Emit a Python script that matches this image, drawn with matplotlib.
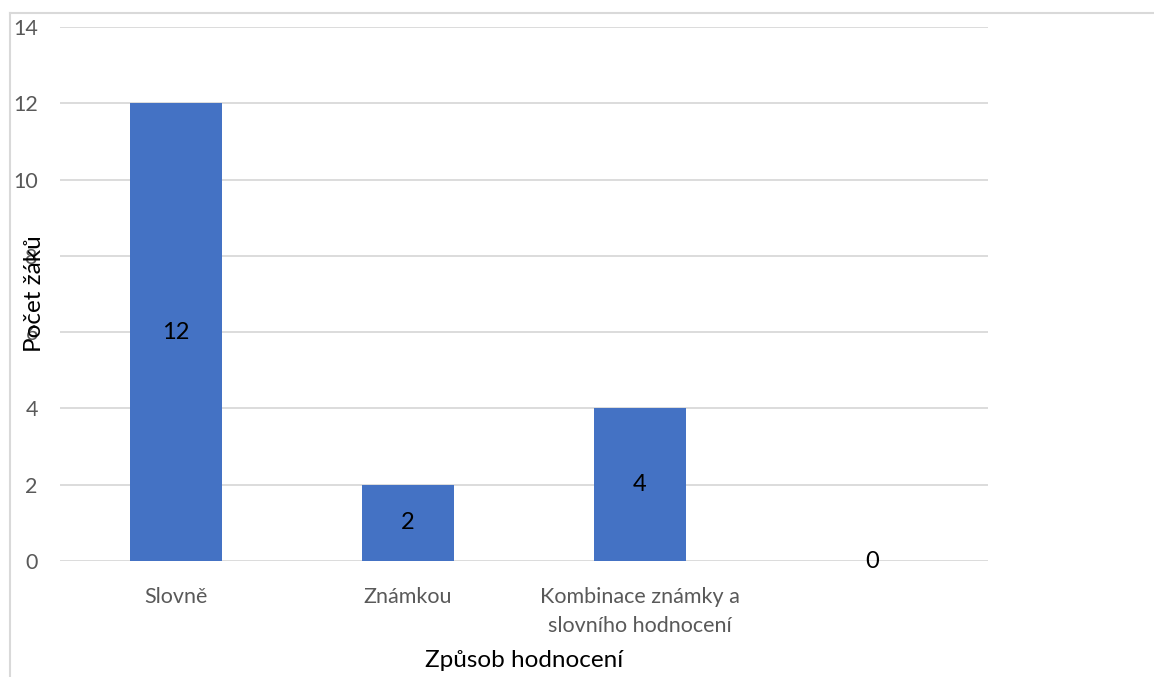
import matplotlib.pyplot as plt
from matplotlib.lines import Line2D

categories = ['Slovně', 'Známkou', 'Kombinace známky a\nslovního hodnocení', '']
counts = [12, 2, 4, 0]
y_ticks = [0, 2, 4, 6, 8, 10, 12, 14]

plt.rcParams['font.family'] = ['Lato', 'DejaVu Sans']

W, H = 1154, 677
fig = plt.figure(figsize=(W / 100, H / 100), dpi=100)
ax = fig.add_axes([60 / W, 1 - 561 / H, 928 / W, 534 / H])

x = range(len(categories))
bars = ax.bar(x, counts, width=0.4, color='#4472C4', zorder=3)

for i, v in enumerate(counts):
    ax.text(i, v / 2, str(v), ha='center', va='center', fontsize=17,
            color='black', zorder=4)

ax.set_xlim(-0.5, len(categories) - 0.5)
ax.set_ylim(0, 14)
ax.set_yticks(y_ticks)
ax.set_xticks(list(x))
ax.set_xticklabels(categories, linespacing=1.55)
ax.yaxis.grid(True, color='#d9d9d9', linewidth=1.3, zorder=0)
ax.tick_params(axis='both', length=0, labelsize=15.5, labelcolor='#595959')
ax.tick_params(axis='x', pad=19)
ax.tick_params(axis='y', pad=16)
for s in ax.spines.values():
    s.set_visible(False)

ax.set_xlabel('Způsob hodnocení', fontsize=17.5, color='black', labelpad=10)
ax.set_ylabel('Počet žáků', fontsize=17.5, color='black')
ax.yaxis.set_label_coords(-0.016, 0.5)

# light frame around the chart area
fy = 1 - 13 / H
fx = 10 / W
fig.add_artist(Line2D([fx, fx], [0, fy], color='#d9d9d9', lw=1.5,
                      transform=fig.transFigure))
fig.add_artist(Line2D([fx, 1], [fy, fy], color='#d9d9d9', lw=1.5,
                      transform=fig.transFigure))

fig.savefig('out.png', dpi=100, facecolor='white')
